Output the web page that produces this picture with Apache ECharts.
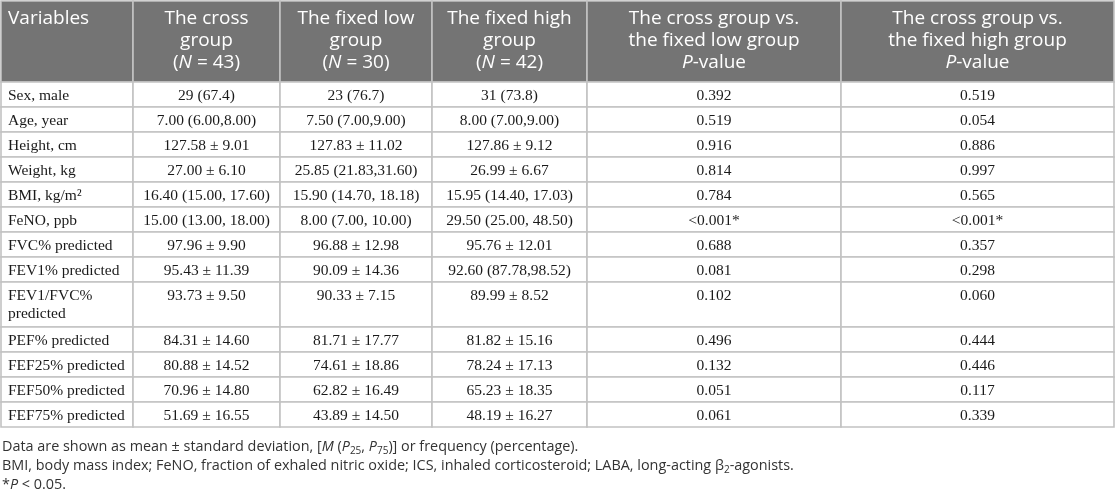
<!DOCTYPE html>
<html>
<head>
<meta charset="utf-8">
<script src="https://cdn.jsdelivr.net/npm/echarts@6/dist/echarts.min.js"></script>
<style>
  html, body { margin: 0; padding: 0; background: #fff; }
  #main { width: 1116px; height: 493px; }
</style>
</head>
<body>
<div id="main"></div>
<script>
// table content
var headers = [
  'Variables',
  'The cross\ngroup\n({i|N} = 43)',
  'The fixed low\ngroup\n({i|N} = 30)',
  'The fixed high\ngroup\n({i|N} = 42)',
  'The cross group vs.\nthe fixed low group\n{i|P}-value',
  'The cross group vs.\nthe fixed high group\n{i|P}-value'
];
var variables = [
  'Sex, male', 'Age, year', 'Height, cm', 'Weight, kg', 'BMI, kg/m²', 'FeNO, ppb',
  'FVC% predicted', 'FEV1% predicted', 'FEV1/FVC%\npredicted', 'PEF% predicted',
  'FEF25% predicted', 'FEF50% predicted', 'FEF75% predicted'
];
var crossGroup = [
  '29 (67.4)', '7.00 (6.00,8.00)', '127.58 ± 9.01', '27.00 ± 6.10', '16.40 (15.00, 17.60)',
  '15.00 (13.00, 18.00)', '97.96 ± 9.90', '95.43 ± 11.39', '93.73 ± 9.50', '84.31 ± 14.60',
  '80.88 ± 14.52', '70.96 ± 14.80', '51.69 ± 16.55'
];
var fixedLow = [
  '23 (76.7)', '7.50 (7.00,9.00)', '127.83 ± 11.02', '25.85 (21.83,31.60)', '15.90 (14.70, 18.18)',
  '8.00 (7.00, 10.00)', '96.88 ± 12.98', '90.09 ± 14.36', '90.33 ± 7.15', '81.71 ± 17.77',
  '74.61 ± 18.86', '62.82 ± 16.49', '43.89 ± 14.50'
];
var fixedHigh = [
  '31 (73.8)', '8.00 (7.00,9.00)', '127.86 ± 9.12', '26.99 ± 6.67', '15.95 (14.40, 17.03)',
  '29.50 (25.00, 48.50)', '95.76 ± 12.01', '92.60 (87.78,98.52)', '89.99 ± 8.52', '81.82 ± 15.16',
  '78.24 ± 17.13', '65.23 ± 18.35', '48.19 ± 16.27'
];
var pCrossVsLow = [
  '0.392', '0.519', '0.916', '0.814', '0.784', '<0.001*', '0.688', '0.081', '0.102', '0.496',
  '0.132', '0.051', '0.061'
];
var pCrossVsHigh = [
  '0.519', '0.054', '0.886', '0.997', '0.565', '<0.001*', '0.357', '0.298', '0.060', '0.444',
  '0.446', '0.117', '0.339'
];
var footnotes = [
  'Data are shown as mean ± standard deviation, [{i|M} ({i|P}{sub|25}, {i|P}{sub|75})] or frequency (percentage).',
  'BMI, body mass index; FeNO, fraction of exhaled nitric oxide; ICS, inhaled corticosteroid; LABA, long-acting β{sub|2}-agonists.',
  '*{i|P} < 0.05.'
];

var columns = [variables, crossGroup, fixedLow, fixedHigh, pCrossVsLow, pCrossVsHigh];

// layout
var colEdges = [1, 133, 280, 432, 587, 841, 1114];
var tableTop = 1;
var headerH = 81;
var rowH = variables.map(function (v) { return v.indexOf('\n') >= 0 ? 45 : 25; });
var rowTops = [tableTop + headerH];
rowH.forEach(function (h, i) { rowTops.push(rowTops[i] + h); });

var cells = [];
for (var c = 0; c < columns.length; c++) {
  cells.push([c, -1]);
  for (var r = 0; r < variables.length; r++) cells.push([c, r]);
}

var sansFont = '"Open Sans", "Noto Sans", sans-serif';
var serifFont = '"Liberation Serif", "DejaVu Serif", serif';
var lineColor = '#c2c2c2';

function renderCell(params, api) {
  var c = api.value(0), r = api.value(1);
  var header = r < 0;
  var y0 = header ? tableTop : rowTops[r];
  var y1 = header ? tableTop + headerH : rowTops[r + 1];
  var p0 = api.coord([colEdges[c], y0]);
  var p1 = api.coord([colEdges[c + 1], y1]);
  var text = header ? headers[c] : columns[c][r];
  var left = c === 0;
  return {
    type: 'group',
    children: [{
      type: 'rect',
      shape: { x: p0[0], y: p0[1], width: p1[0] - p0[0], height: p1[1] - p0[1] },
      style: { fill: header ? '#747474' : '#ffffff', stroke: lineColor, lineWidth: 1.6 }
    }, {
      type: 'text',
      z2: 10,
      style: {
        text: text,
        x: left ? p0[0] + 7 : (p0[0] + p1[0]) / 2,
        y: p0[1] + (header ? 6.5 : 4.5),
        align: left ? 'left' : 'center',
        verticalAlign: 'top',
        fontFamily: header ? sansFont : serifFont,
        fontSize: header ? 19 : 15.5,
        lineHeight: header ? 22 : 18,
        fill: header ? '#ffffff' : '#1a1a1a',
        rich: {
          i: { fontStyle: 'italic', fontFamily: sansFont, fontSize: 19, lineHeight: 22, fill: '#ffffff' }
        }
      }
    }]
  };
}

var chart = echarts.init(document.getElementById('main'));

chart.setOption({
  animation: false,
  grid: { left: 0, right: 0, top: 0, bottom: 0 },
  xAxis: { type: 'value', min: 0, max: 1116, show: false },
  yAxis: { type: 'value', min: 0, max: 493, inverse: true, show: false },
  graphic: [{
    type: 'text',
    left: 2,
    top: 437,
    style: {
      text: footnotes.join('\n'),
      fontFamily: sansFont,
      fontSize: 14.4,
      lineHeight: 19,
      fill: '#333333',
      rich: {
        i: { fontStyle: 'italic', fontFamily: sansFont, fontSize: 14.4, lineHeight: 19, fill: '#333333' },
        sub: { fontFamily: sansFont, fontSize: 10, lineHeight: 12, verticalAlign: 'bottom', fill: '#333333' }
      }
    }
  }],
  series: [{
    type: 'custom',
    coordinateSystem: 'cartesian2d',
    clip: false,
    data: cells,
    renderItem: renderCell
  }]
});
</script>
</body>
</html>
